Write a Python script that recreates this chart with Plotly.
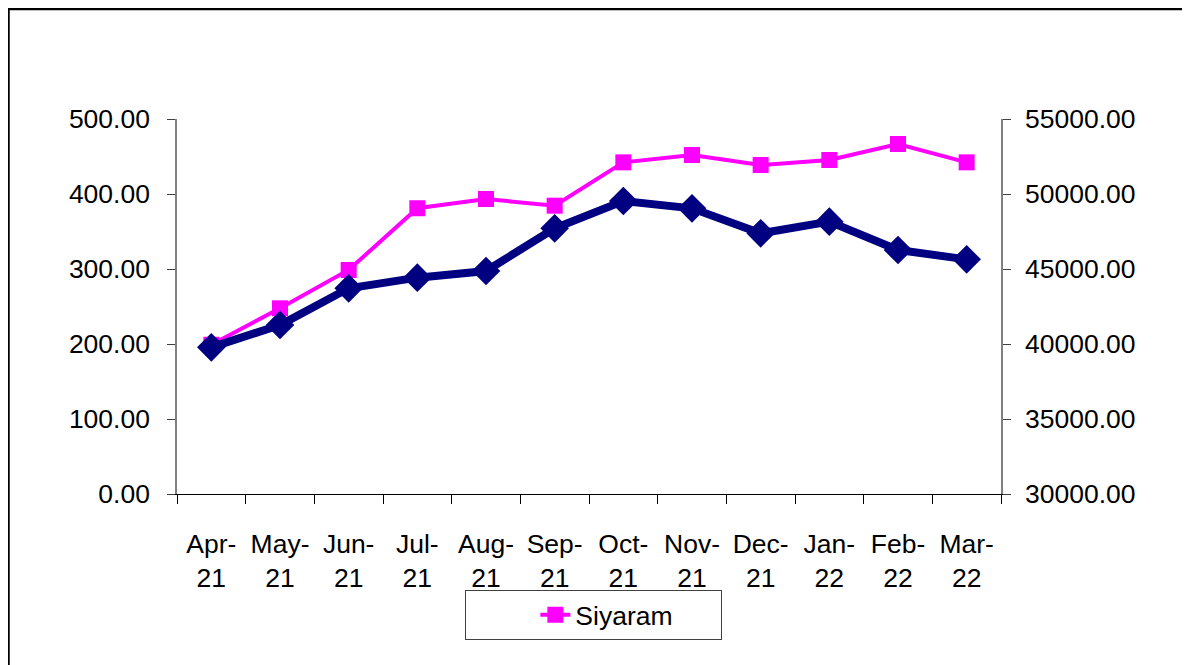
import plotly.graph_objects as go

months = ["Apr-<br>21", "May-<br>21", "Jun-<br>21", "Jul-<br>21", "Aug-<br>21", "Sep-<br>21",
          "Oct-<br>21", "Nov-<br>21", "Dec-<br>21", "Jan-<br>22", "Feb-<br>22", "Mar-<br>22"]
siyaram = [199, 247.6, 298.7, 381.0, 393.3, 384.4, 442.2, 452.0, 438.7, 445.3, 466.7, 442.2]
index_vals = [39778, 41267, 43711, 44422, 44867, 47711, 49533, 49044, 47378, 48156, 46267, 45644]

left_ticks = [0, 100, 200, 300, 400, 500]
right_ticks = [30000, 35000, 40000, 45000, 50000, 55000]

FONT = "Liberation Sans, Arial, sans-serif"
FS = 26.5
PINK = "#FF00FF"
NAVY = "#000080"

fig = go.Figure()
fig.add_trace(go.Scatter(
    x=months, y=siyaram, name="Siyaram", mode="lines+markers",
    line=dict(color=PINK, width=4),
    marker=dict(symbol="square", size=16, color=PINK),
    yaxis="y",
))
fig.add_trace(go.Scatter(
    x=months, y=index_vals, name="Index", mode="lines+markers",
    line=dict(color=NAVY, width=8),
    marker=dict(symbol="diamond", size=22, color=NAVY),
    yaxis="y2", showlegend=False,
))

fig.update_layout(
    width=1190, height=665,
    margin=dict(l=169, r=197, t=111, b=179),
    paper_bgcolor="white", plot_bgcolor="white",
    font=dict(family=FONT, size=FS, color="black"),
    showlegend=True,
    legend=dict(
        orientation="h", x=0.506, xanchor="center", y=-0.256, yanchor="top",
        bordercolor="#404040", borderwidth=1, bgcolor="white",
        font=dict(family=FONT, size=FS, color="black"),
        title=dict(text="\u00a0" * 8, side="left", font=dict(size=FS)),
        entrywidth=141,
    ),
    xaxis=dict(
        type="category", range=[-0.5, 11.5],
        showline=True, linecolor="black", linewidth=1,
        ticks="outside", tickson="boundaries", ticklen=9, tickcolor="black",
        showgrid=False, zeroline=False,
        tickfont=dict(family=FONT, size=FS, color="black"),
        ticklabelstandoff=26,
    ),
    yaxis=dict(
        range=[0, 500], tickvals=left_ticks, tickformat=".2f",
        showline=True, linecolor="#808080", linewidth=1.5,
        ticks="outside", ticklen=8, tickcolor="#404040",
        showgrid=False, zeroline=False,
        tickfont=dict(family=FONT, size=FS, color="black"),
        ticklabelstandoff=12,
    ),
    yaxis2=dict(
        range=[30000, 55000], tickvals=right_ticks, tickformat=".2f",
        overlaying="y", side="right",
        showline=True, linecolor="#808080", linewidth=1.5,
        ticks="outside", ticklen=8, tickcolor="#404040",
        showgrid=False, zeroline=False,
        tickfont=dict(family=FONT, size=FS, color="black"),
        ticklabelstandoff=9,
    ),
    shapes=[dict(
        type="rect", xref="paper", yref="paper",
        x0=-0.2045, y0=1.2933, x1=1.3, y1=-0.6,
        line=dict(color="black", width=2.5), fillcolor="rgba(0,0,0,0)",
        layer="below",
    )],
)

fig.write_html("out.html")
